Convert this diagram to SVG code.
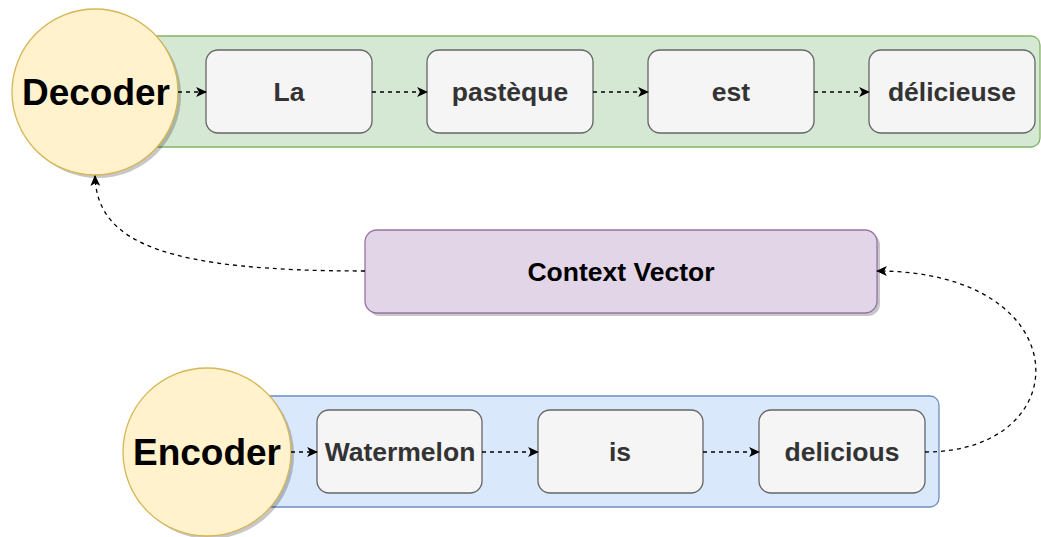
<svg xmlns="http://www.w3.org/2000/svg" width="1041" height="537" viewBox="0 0 1041 537">
  <style>
    .word rect { fill: #f5f5f5; stroke: #666666; stroke-width: 1.3; }
    .word text { font-family: "Liberation Sans", Arial, sans-serif; font-weight: bold; font-size: 26.5px; fill: #333333; text-anchor: middle; }
    .hub circle.main { fill: #fff2cc; stroke: #d6b656; stroke-width: 1.3; }
    .hub text { font-family: "Liberation Sans", Arial, sans-serif; font-weight: bold; font-size: 37px; fill: #000000; text-anchor: middle; }
    .shadow { fill: #000000; opacity: 0.22; }
    .link { fill: none; stroke: #000000; stroke-width: 1.3; stroke-dasharray: 4 4; marker-end: url(#arrow); }
  </style>
  <defs>
    <marker id="arrow" viewBox="0 0 10 10" refX="9" refY="5" markerWidth="11" markerHeight="11" markerUnits="userSpaceOnUse" orient="auto">
      <path d="M0,0.5 L10,5 L0,9.5 L2.5,5 Z" fill="#000000"/>
    </marker>
  </defs>

  <rect width="1041" height="537" fill="#ffffff"/>

  <!-- decoder lane -->
  <g id="decoder-lane">
    <rect x="100" y="36" width="940" height="111" rx="9" fill="#d5e8d4" stroke="#82b366" stroke-width="1.3"/>
  </g>

  <!-- encoder lane -->
  <g id="encoder-lane">
    <rect x="200" y="396" width="739" height="111" rx="9" fill="#dae8fc" stroke="#6c8ebf" stroke-width="1.3"/>
  </g>

  <g id="decoder" class="hub">
    <circle class="shadow" cx="98" cy="95" r="83"/>
    <circle class="main" cx="95" cy="92" r="83"/>
    <text x="96" y="105">Decoder</text>
  </g>

  <g id="encoder" class="hub">
    <circle class="shadow" cx="210" cy="455" r="84"/>
    <circle class="main" cx="207" cy="452" r="84"/>
    <text x="207" y="465">Encoder</text>
  </g>

  <g id="word-la" class="word">
    <rect x="206" y="50" width="166" height="83" rx="12"/>
    <text x="289" y="101">La</text>
  </g>
  <g id="word-pasteque" class="word">
    <rect x="427" y="50" width="166" height="83" rx="12"/>
    <text x="510" y="101">pastèque</text>
  </g>
  <g id="word-est" class="word">
    <rect x="648" y="50" width="166" height="83" rx="12"/>
    <text x="731" y="101">est</text>
  </g>
  <g id="word-delicieuse" class="word">
    <rect x="869" y="50" width="166" height="83" rx="12"/>
    <text x="952" y="101">délicieuse</text>
  </g>

  <g id="word-watermelon" class="word">
    <rect x="317" y="410" width="165" height="83" rx="12"/>
    <text x="400" y="461">Watermelon</text>
  </g>
  <g id="word-is" class="word">
    <rect x="538" y="410" width="165" height="83" rx="12"/>
    <text x="620" y="461">is</text>
  </g>
  <g id="word-delicious" class="word">
    <rect x="759" y="410" width="166" height="83" rx="12"/>
    <text x="842" y="461">delicious</text>
  </g>

  <g id="context-vector">
    <rect class="shadow" x="368" y="233" width="512" height="83" rx="12"/>
    <rect x="365" y="230" width="512" height="83" rx="12" fill="#e1d5e7" stroke="#9673a6" stroke-width="1.3"/>
    <text x="621" y="281" font-family="Liberation Sans, Arial, sans-serif" font-weight="bold" font-size="26.5px" fill="#000000" text-anchor="middle">Context Vector</text>
  </g>

  <g id="connectors">
    <path class="link" d="M178,92 L206,92"/>
    <path class="link" d="M372,92 L427,92"/>
    <path class="link" d="M593,92 L648,92"/>
    <path class="link" d="M814,92 L869,92"/>
    <path class="link" d="M291,452 L317,452"/>
    <path class="link" d="M482,452 L538,452"/>
    <path class="link" d="M703,452 L759,452"/>
    <path class="link" d="M925,452 C1080,452 1080,271 877,271"/>
    <path class="link" d="M365,271 C170,271 97,245 95,176"/>
  </g>
</svg>
